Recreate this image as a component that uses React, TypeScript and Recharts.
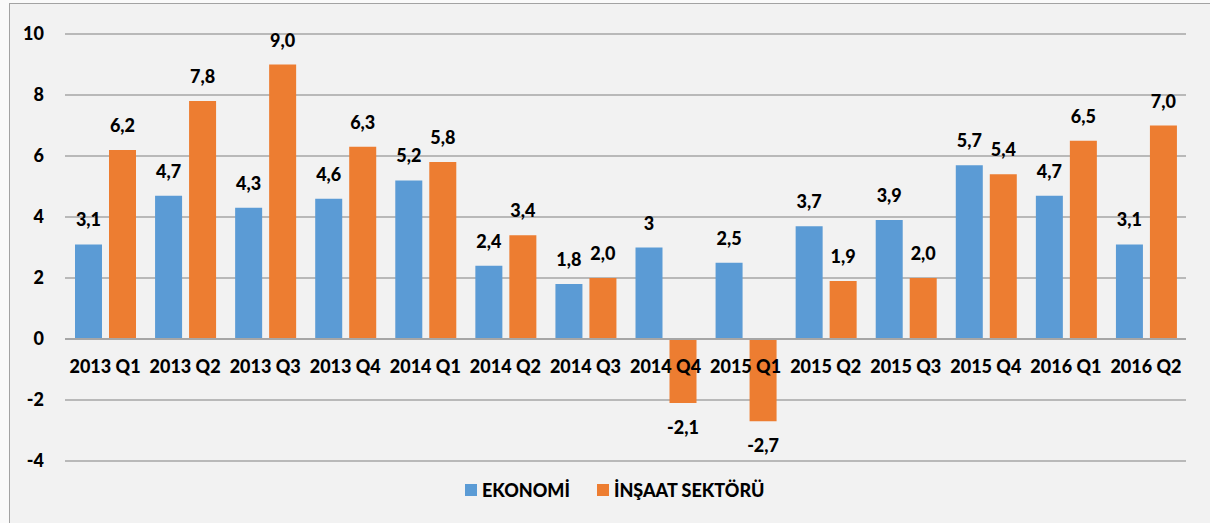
import { Bar, BarChart, CartesianGrid, LabelList, Legend, ReferenceLine, XAxis, YAxis } from "recharts";

const categories = [
  "2013 Q1", "2013 Q2", "2013 Q3", "2013 Q4",
  "2014 Q1", "2014 Q2", "2014 Q3", "2014 Q4",
  "2015 Q1", "2015 Q2", "2015 Q3", "2015 Q4",
  "2016 Q1", "2016 Q2",
];
const ekonomi = [3.1, 4.7, 4.3, 4.6, 5.2, 2.4, 1.8, 3, 2.5, 3.7, 3.9, 5.7, 4.7, 3.1];
const ekonomiLabels = ["3,1", "4,7", "4,3", "4,6", "5,2", "2,4", "1,8", "3", "2,5", "3,7", "3,9", "5,7", "4,7", "3,1"];
const insaat = [6.2, 7.8, 9.0, 6.3, 5.8, 3.4, 2.0, -2.1, -2.7, 1.9, 2.0, 5.4, 6.5, 7.0];
const insaatLabels = ["6,2", "7,8", "9,0", "6,3", "5,8", "3,4", "2,0", "-2,1", "-2,7", "1,9", "2,0", "5,4", "6,5", "7,0"];
const yTicks = [-4, -2, 0, 2, 4, 6, 8, 10];

const data = categories.map((name, i) => ({
  name,
  ekonomi: ekonomi[i],
  ekonomiLabel: ekonomiLabels[i],
  insaat: insaat[i],
  insaatLabel: insaatLabels[i],
}));

const BLUE = "#5b9bd5";
const ORANGE = "#ed7d31";
const FONT = "Lato, 'Open Sans', sans-serif";
const WEIGHT = 900;

const WIDTH = 1210;
const HEIGHT = 523;
const MARGIN = { top: 34, right: 24, bottom: 32, left: 5 };
const X_AXIS_HEIGHT = 30;
const Y_MIN = -4;
const Y_MAX = 10;
const PLOT_HEIGHT = HEIGHT - MARGIN.top - MARGIN.bottom - X_AXIS_HEIGHT;
const ZERO_Y = MARGIN.top + ((Y_MAX - 0) / (Y_MAX - Y_MIN)) * PLOT_HEIGHT;

function CategoryTick({ x, payload }: { x?: number; payload?: { value: string } }) {
  return (
    <text
      x={x}
      y={ZERO_Y + 34}
      textAnchor="middle"
      fontFamily={FONT}
      fontWeight={WEIGHT}
      fontSize={18}
      fill="#000"
    >
      {payload?.value}
    </text>
  );
}

function LegendContent({ payload }: { payload?: { value: string; color: string }[] }) {
  return (
    <div style={{ display: "flex", alignItems: "center", fontFamily: FONT, fontWeight: WEIGHT, fontSize: 18 }}>
      {(payload ?? []).map((item, i) => (
        <div key={item.value} style={{ display: "flex", alignItems: "center", marginRight: i === 0 ? 27 : 0 }}>
          <span style={{ width: 12, height: 12, background: item.color, marginRight: 5, display: "inline-block" }} />
          <span style={{ color: "#000" }}>{item.value}</span>
        </div>
      ))}
    </div>
  );
}

export default function App() {
  return (
    <div
      style={{
        position: "absolute",
        left: 0,
        top: 0,
        width: WIDTH,
        height: HEIGHT,
        overflow: "hidden",
        background: "#fafafa",
      }}
    >
      <div
        style={{
          position: "absolute",
          left: 9,
          top: 3,
          width: 1300,
          height: 600,
          border: "1.5px solid #a3a3a3",
          background: "#f2f2f2",
        }}
      />
      <div style={{ position: "absolute", left: 0, top: 0 }}>
        <BarChart
          width={WIDTH}
          height={HEIGHT}
          data={data}
          margin={MARGIN}
          barCategoryGap={10}
          barGap={7}
        >
          <CartesianGrid vertical={false} stroke="#a6a6a6" strokeWidth={1.5} />
          <XAxis
            dataKey="name"
            height={X_AXIS_HEIGHT}
            axisLine={false}
            tickLine={false}
            interval={0}
            tick={<CategoryTick />}
          />
          <YAxis
            width={60}
            domain={[Y_MIN, Y_MAX]}
            ticks={yTicks}
            axisLine={false}
            tickLine={false}
            tickSize={0}
            tickMargin={21}
            tick={{ fontFamily: FONT, fontWeight: WEIGHT, fontSize: 18, fill: "#000" }}
          />
          <ReferenceLine y={0} stroke="#a6a6a6" strokeWidth={2} />
          <Legend
            verticalAlign="middle"
            layout="horizontal"
            align="center"
            wrapperStyle={{ top: 479, left: 465, width: 400 }}
            content={<LegendContent />}
          />
          <Bar dataKey="ekonomi" name="EKONOMİ" fill={BLUE} isAnimationActive={false}>
            <LabelList
              dataKey="ekonomiLabel"
              position="top"
              offset={18}
              fontFamily={FONT}
              fontWeight={WEIGHT}
              fontSize={18}
              fill="#000"
            />
          </Bar>
          <Bar dataKey="insaat" name="İNŞAAT SEKTÖRÜ" fill={ORANGE} isAnimationActive={false}>
            <LabelList
              dataKey="insaatLabel"
              position="top"
              offset={18}
              fontFamily={FONT}
              fontWeight={WEIGHT}
              fontSize={18}
              fill="#000"
            />
          </Bar>
        </BarChart>
      </div>
    </div>
  );
}
